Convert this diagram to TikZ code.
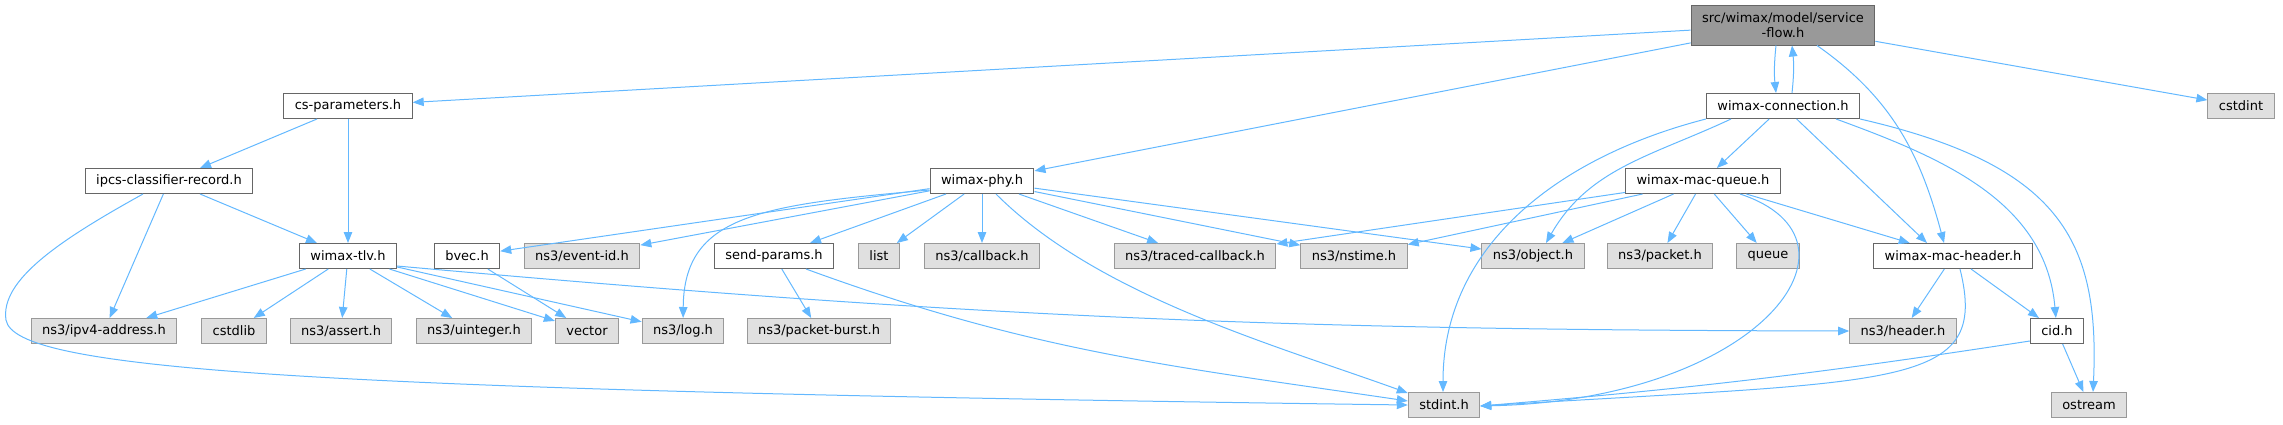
\documentclass[tikz,border=0pt]{standalone}
\usepackage{fontspec}
\setmainfont{DejaVu Sans}
\usetikzlibrary{arrows.meta}
\definecolor{edgeblue}{HTML}{63B8FF}
\definecolor{docborder}{HTML}{666666}
\definecolor{extborder}{HTML}{999999}
\definecolor{extfill}{HTML}{E0E0E0}
\definecolor{topfill}{HTML}{999999}
\begin{document}
\begin{tikzpicture}[x=1pt,y=-1pt,
  file/.style={draw=docborder,fill=white,line width=1pt,minimum height=25pt,
    inner xsep=11pt,inner ysep=0pt,font=\fontsize{13}{15.5}\selectfont},
  ext/.style={file,draw=extborder,fill=extfill},
  topfile/.style={file,fill=topfill,align=center,minimum height=40pt},
  inc/.style={draw=edgeblue,line width=1pt,-{Triangle[length=11pt,width=8.5pt]}}]
\useasboundingbox (0,0) rectangle (2283,424);
%\draw[help lines] (0,0) grid[step=100] (2283,424);
\node[topfile] (sf) at (1783,25) {src/wimax/model/service\\-flow.h};
% row 1
\node[file] (csp) at (348,106) {cs-parameters.h};
\node[file] (wcon) at (1783,106) {wimax-connection.h};
\node[ext] (cstdint) at (2241,106) {cstdint};
% row 2
\node[file] (ipcs) at (169,181) {ipcs-classifier-record.h};
\node[file] (wphy) at (982,181) {wimax-phy.h};
\node[file] (wmq) at (1703,181) {wimax-mac-queue.h};
% row 3
\node[file] (wtlv) at (348,256) {wimax-tlv.h};
\node[file] (bvec) at (467,256) {bvec.h};
\node[ext] (eventid) at (582,256) {ns3/event-id.h};
\node[file] (sendp) at (774,256) {send-params.h};
\node[ext] (list) at (879,256) {list};
\node[ext] (callback) at (982,256) {ns3/callback.h};
\node[ext] (traced) at (1195,256) {ns3/traced-callback.h};
\node[ext] (nstime) at (1354,256) {ns3/nstime.h};
\node[ext] (object) at (1533,256) {ns3/object.h};
\node[ext] (packet) at (1660,256) {ns3/packet.h};
\node[ext] (queue) at (1768,256) {queue};
\node[file] (wmh) at (1953,256) {wimax-mac-header.h};
% row 4
\node[ext] (ipv4) at (104,331) {ns3/ipv4-address.h};
\node[ext] (cstdlib) at (234,331) {cstdlib};
\node[ext] (assert) at (341,331) {ns3/assert.h};
\node[ext] (uint) at (474,331) {ns3/uinteger.h};
\node[ext] (vector) at (587,331) {vector};
\node[ext] (log) at (683,331) {ns3/log.h};
\node[ext] (pburst) at (819,331) {ns3/packet-burst.h};
\node[ext] (header) at (1903,331) {ns3/header.h};
\node[file] (cid) at (2057,331) {cid.h};
% row 5
\node[ext] (stdint) at (1444,405) {stdint.h};
\node[ext] (ostream) at (2089,405) {ostream};
% service-flow.h
\draw[inc] (sf) -- (csp);
\draw[inc] (sf) -- (wphy);
\draw[inc] ([xshift=-7pt]sf.south) to[bend right=6] ([xshift=-7pt]wcon.north);
\draw[inc] ([xshift=34pt]sf.south) to[out=-35,in=105] ([xshift=-9pt]wmh.north);
\draw[inc] (sf) -- (cstdint);
% wimax-connection.h
\draw[inc] ([xshift=9pt]wcon.north) to[bend right=6] ([xshift=9pt]sf.south);
\draw[inc] (wcon) -- (wmq);
\draw[inc] (wcon) -- ([xshift=-26pt]wmh.north);
\draw[inc] ([xshift=53pt]wcon.south) to[out=-20,in=95] (cid);
\draw[inc] (wcon.south east) .. controls (2060,165) and (2100,240) .. ([xshift=4pt]ostream.north);
\draw[inc] ([xshift=-52pt]wcon.south) .. controls (1652,156) and (1589,168) .. ([xshift=13pt]object.north);
\draw[inc] (wcon.south west) .. controls (1562,156) and (1443,243) .. ([xshift=-1pt]stdint.north);
% cs-parameters.h, ipcs-classifier-record.h
\draw[inc] (csp) -- (ipcs);
\draw[inc] (csp) -- (wtlv);
\draw[inc] (ipcs) -- (wtlv);
\draw[inc] (ipcs) -- (ipv4);
\draw[inc] ([xshift=-26pt]ipcs.south) .. controls (60,240) and (0,280) .. (6,320)
  .. controls (15,370) and (300,390) .. (stdint.west);
% wimax-tlv.h
\draw[inc] (wtlv) -- (ipv4);
\draw[inc] (wtlv) -- (cstdlib);
\draw[inc] (wtlv) -- (assert);
\draw[inc] (wtlv) -- (uint);
\draw[inc] (wtlv) -- (vector);
\draw[inc] (wtlv) -- (log);
\draw[inc] ([yshift=3pt]wtlv.south east) .. controls (965,317) and (1281,330) .. (header.west);
\draw[inc] (bvec) -- (vector);
% wimax-phy.h
\draw[inc] (wphy) -- (bvec);
\draw[inc] (wphy) -- (eventid);
\draw[inc] ([yshift=-9pt]wphy.west) .. controls (760,205) and (684,215) .. (log);
\draw[inc] (wphy) -- (sendp);
\draw[inc] (wphy) -- (list);
\draw[inc] (wphy) -- (callback);
\draw[inc] ([xshift=14pt]wphy.south) .. controls (1098,296) and (1275,345) .. ([yshift=-1pt]stdint.north west);
\draw[inc] (wphy) -- (traced);
\draw[inc] (wphy) -- (nstime);
\draw[inc] (wphy) -- (object);
% send-params.h
\draw[inc] (sendp) -- (pburst);
\draw[inc] ([xshift=32pt]sendp.south) .. controls (1033,352) and (1170,366) .. ([yshift=4pt]stdint.west);
% wimax-mac-queue.h
\draw[inc] (wmq) -- (traced);
\draw[inc] (wmq) -- (nstime);
\draw[inc] (wmq) -- (object);
\draw[inc] (wmq) -- (packet);
\draw[inc] (wmq) -- (queue);
\draw[inc] (wmq) -- (wmh);
\draw[inc] ([xshift=37pt]wmq.south) .. controls (1880,240) and (1760,400) .. ([yshift=-1pt]stdint.east);
% wimax-mac-header.h, cid.h
\draw[inc] (wmh) -- (header);
\draw[inc] (wmh) -- (cid);
\draw[inc] ([xshift=7pt]wmh.south) .. controls (1990,390) and (1900,380) .. ([yshift=-1pt]stdint.east);
\draw[inc] ([yshift=3pt]cid.south west) to[bend left=2] ([yshift=-1pt]stdint.east);
\draw[inc] (cid) -- (ostream);
\end{tikzpicture}
\end{document}
